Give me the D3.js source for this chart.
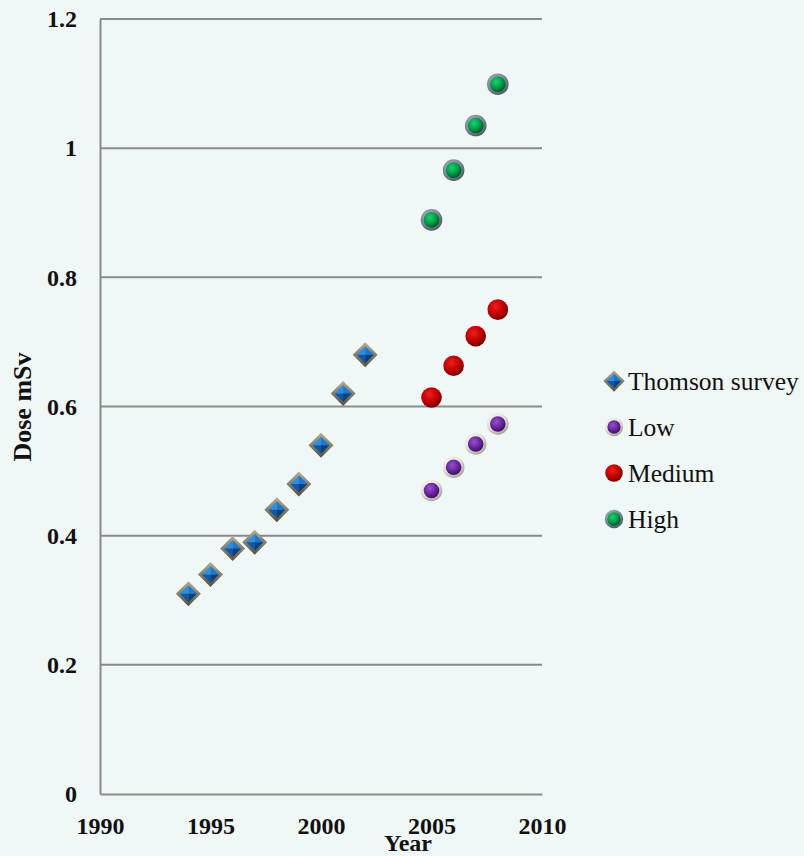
<!DOCTYPE html>
<html>
<head>
<meta charset="utf-8">
<script src="https://cdn.jsdelivr.net/npm/d3@7"></script>
<style>
  html, body { margin: 0; padding: 0; background: #f0f8f7; }
  svg { display: block; }
</style>
</head>
<body>
<svg id="chart" width="804" height="856"></svg>
<script>
// ---- data ----
const thomsonYears = [1994, 1995, 1996, 1997, 1998, 1999, 2000, 2001, 2002];
const thomsonDose = [0.31, 0.34, 0.38, 0.39, 0.44, 0.48, 0.54, 0.62, 0.68];
const projYears = [2005, 2006, 2007, 2008];
const lowDose = [0.47, 0.506, 0.542, 0.573];
const mediumDose = [0.614, 0.663, 0.709, 0.75];
const highDose = [0.889, 0.966, 1.035, 1.099];
const xTicks = [1990, 1995, 2000, 2005, 2010];
const yTicks = [0, 0.2, 0.4, 0.6, 0.8, 1, 1.2];
const seriesNames = ["Thomson survey", "Low", "Medium", "High"];
const xTitle = "Year";
const yTitle = "Dose mSv";

// ---- layout ----
const svg = d3.select("#chart");
const W = 804, H = 856;
const plot = { left: 100, right: 542, top: 19, bottom: 794 };
const x = d3.scaleLinear().domain([1990, 2010]).range([plot.left, plot.right]);
const y = d3.scaleLinear().domain([0, 1.2]).range([plot.bottom, plot.top]);
const serif = "'Liberation Serif', 'Times New Roman', serif";

svg.append("rect").attr("width", W).attr("height", H).attr("fill", "#f0f8f7");

// ---- gradients ----
const defs = svg.append("defs");
function radial(id, stops, cx = "40%", cy = "35%", r = "65%") {
  const g = defs.append("radialGradient").attr("id", id)
    .attr("cx", cx).attr("cy", cy).attr("r", r);
  stops.forEach(([o, c]) => g.append("stop").attr("offset", o).attr("stop-color", c));
}
function linear(id, stops, x1, y1, x2, y2) {
  const g = defs.append("linearGradient").attr("id", id)
    .attr("x1", x1).attr("y1", y1).attr("x2", x2).attr("y2", y2);
  stops.forEach(([o, c]) => g.append("stop").attr("offset", o).attr("stop-color", c));
}
radial("lowRing", [["0%", "#ffffff"], ["60%", "#e6e2da"], ["100%", "#9c978c"]], "40%", "35%", "70%");
radial("lowCore", [["0%", "#9a4fd0"], ["55%", "#6a2aa0"], ["100%", "#3e1066"]]);
radial("medCore", [["0%", "#f02020"], ["55%", "#c40000"], ["100%", "#7a0000"]]);
radial("highRing", [["0%", "#a8b8c6"], ["60%", "#7a8a98"], ["100%", "#46525e"]], "40%", "35%", "70%");
radial("highCore", [["0%", "#20d070"], ["55%", "#00a448"], ["100%", "#005a28"]]);
linear("diaFrame", [["0%", "#b4ae94"], ["100%", "#55513f"]], "0%", "0%", "0%", "100%");

// ---- axes ----
const xAxis = d3.axisBottom(x).tickValues(xTicks).tickSize(0).tickFormat(d => String(d));
const yAxis = d3.axisLeft(y).tickValues(yTicks).tickSize(0).tickFormat(d => String(d));

// gridlines
svg.append("g").selectAll("line").data(yTicks.filter(d => d > 0)).join("line")
  .attr("x1", plot.left).attr("x2", plot.right)
  .attr("y1", d => y(d)).attr("y2", d => y(d))
  .attr("stroke", "#8a8a8a").attr("stroke-width", 2);

const gx = svg.append("g").attr("transform", `translate(0,${plot.bottom})`).call(xAxis);
gx.select(".domain").attr("stroke", "#8a8a8a").attr("stroke-width", 2);
gx.selectAll("text").attr("font-family", serif).attr("font-weight", "bold")
  .attr("font-size", 24).attr("fill", "#111").attr("dy", null).attr("y", 40);

const gy = svg.append("g").attr("transform", `translate(${plot.left},0)`).call(yAxis);
gy.select(".domain").attr("stroke", "#8a8a8a").attr("stroke-width", 2);
gy.selectAll("text").attr("font-family", serif).attr("font-weight", "bold")
  .attr("font-size", 24).attr("fill", "#111").attr("x", -23).attr("dy", "0.32em");

svg.append("text").attr("x", 408).attr("y", 851).attr("text-anchor", "middle")
  .attr("font-family", serif).attr("font-weight", "bold").attr("font-size", 24)
  .attr("fill", "#111").text(xTitle);
svg.append("text").attr("transform", `translate(31,407) rotate(-90)`)
  .attr("text-anchor", "middle").attr("font-family", serif).attr("font-weight", "bold")
  .attr("font-size", 26).attr("fill", "#111").text(yTitle);

// ---- markers ----
function diamond(g, s) {
  const R = 12.5 * s, r = 8.5 * s;
  g.append("path").attr("d", `M0,${-R}L${R},0L0,${R}L${-R},0Z`).attr("fill", "url(#diaFrame)");
  const facets = [
    [`M0,${-r}L${r},0L0,0Z`, "#1a78d0"],
    [`M0,${-r}L${-r},0L0,0Z`, "#2b8ee6"],
    [`M${-r},0L0,${r}L0,0Z`, "#0f5aa8"],
    [`M${r},0L0,${r}L0,0Z`, "#0a3f80"]
  ];
  facets.forEach(([d, c]) => g.append("path").attr("d", d).attr("fill", c));
}
function ringed(ring, core) {
  return (g, s) => {
    g.append("circle").attr("r", 10.8 * s).attr("fill", `url(#${ring})`);
    g.append("circle").attr("r", 7.8 * s).attr("fill", `url(#${core})`);
  };
}
function plain(core) {
  return (g, s) => {
    g.append("circle").attr("r", 10.3 * s).attr("fill", `url(#${core})`);
  };
}
const drawers = [diamond, ringed("lowRing", "lowCore"), plain("medCore"), ringed("highRing", "highCore")];

const series = [
  { years: thomsonYears, values: thomsonDose },
  { years: projYears, values: lowDose },
  { years: projYears, values: mediumDose },
  { years: projYears, values: highDose }
];

series.forEach((sr, i) => {
  const pts = sr.years.map((yr, j) => ({ yr, v: sr.values[j] }));
  svg.append("g").selectAll("g").data(pts).join("g")
    .attr("transform", d => `translate(${x(d.yr)},${y(d.v)})`)
    .each(function () { drawers[i](d3.select(this), 1); });
});

// ---- legend ----
const legend = svg.append("g");
const legY0 = 381, legStep = 46;
seriesNames.forEach((name, i) => {
  const g = legend.append("g").attr("transform", `translate(614,${legY0 + i * legStep})`);
  drawers[i](g.append("g"), 0.85);
  g.append("text").attr("x", 14).attr("y", 8.5).attr("font-family", serif)
    .attr("font-size", 25.5).attr("fill", "#111").text(name);
});
</script>
</body>
</html>
